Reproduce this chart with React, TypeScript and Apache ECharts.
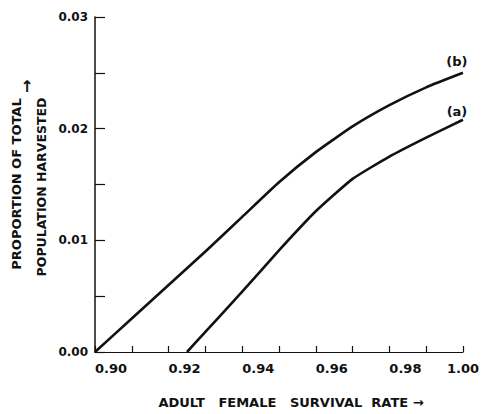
import React, { useEffect, useRef } from "react";
import * as echarts from "echarts";

const survivalA = [0.925, 0.93, 0.94, 0.95, 0.96, 0.97, 0.98, 0.99, 1.0];
const harvestA = [0.0, 0.0018, 0.0054, 0.0091, 0.0126, 0.0155, 0.0175, 0.0192, 0.0208];
const survivalB = [0.9, 0.91, 0.92, 0.93, 0.94, 0.95, 0.96, 0.97, 0.98, 0.99, 1.0];
const harvestB = [0.0, 0.003, 0.006, 0.009, 0.0121, 0.0152, 0.0179, 0.0202, 0.0221, 0.0237, 0.025];
const seriesLabels = ["(a)", "(b)"];
const xTitle = "ADULT   FEMALE   SURVIVAL  RATE →";
const yTitle1 = "PROPORTION OF TOTAL";
const yTitle2 = "POPULATION HARVESTED";
const yArrow = "↑";

const FONT = "'DejaVu Sans', 'Liberation Sans', sans-serif";
const INK = "#111";

function buildData(xs: number[], ys: number[], label: string, dy: number) {
  return xs.map((x, i) => {
    if (i === xs.length - 1) {
      return {
        value: [x, ys[i]],
        label: {
          show: true,
          position: "top",
          distance: dy,
          offset: [-6, 0],
          formatter: label,
          fontFamily: FONT,
          fontWeight: "bold",
          fontSize: 13,
          color: INK,
        },
      };
    }
    return { value: [x, ys[i]] };
  });
}

export default function App() {
  const ref = useRef<HTMLDivElement>(null);
  useEffect(() => {
    if (!ref.current) return;
    const chart = echarts.init(ref.current, null, { renderer: "svg" });
    chart.setOption({
      animation: false,
      backgroundColor: "#fff",
      grid: { left: 95, right: 13, top: 17, bottom: 62, containLabel: false },
      xAxis: {
        type: "value",
        min: 0.9,
        max: 1.0,
        interval: 0.01,
        axisLine: { show: true, onZero: false, lineStyle: { color: INK, width: 1.2 } },
        axisTick: { show: true, inside: true, length: 6, lineStyle: { color: INK, width: 1.2 } },
        splitLine: { show: false },
        axisLabel: {
          margin: 10,
          align: "left",
          alignMaxLabel: "center",
          fontFamily: FONT,
          fontWeight: "bold",
          fontSize: 13,
          color: INK,
          formatter: (v: number) => (Math.round(v * 100) % 2 === 0 ? v.toFixed(2) : ""),
        },
      },
      yAxis: {
        type: "value",
        min: 0,
        max: 0.03,
        interval: 0.005,
        axisLine: { show: true, onZero: false, lineStyle: { color: INK, width: 1.5 } },
        axisTick: { show: true, inside: true, length: 10, lineStyle: { color: INK, width: 1.2 } },
        splitLine: { show: false },
        axisLabel: {
          margin: 7,
          fontFamily: FONT,
          fontWeight: "bold",
          fontSize: 12,
          color: INK,
          formatter: (v: number) => (Math.round(v * 1000) % 10 === 0 ? v.toFixed(2) : ""),
        },
      },
      series: [
        {
          type: "line",
          name: seriesLabels[0],
          data: buildData(survivalA, harvestA, seriesLabels[0], 2),
          symbol: "circle",
          symbolSize: 0,
          showSymbol: true,
          smooth: 0.15,
          lineStyle: { color: INK, width: 2.6 },
          itemStyle: { color: INK },
        },
        {
          type: "line",
          name: seriesLabels[1],
          data: buildData(survivalB, harvestB, seriesLabels[1], 5),
          symbol: "circle",
          symbolSize: 0,
          showSymbol: true,
          smooth: 0.15,
          lineStyle: { color: INK, width: 2.6 },
          itemStyle: { color: INK },
        },
      ],
      graphic: [
        {
          type: "text",
          x: 291,
          y: 402,
          style: {
            text: xTitle,
            font: `bold 13px ${FONT}`,
            fill: INK,
            textAlign: "center",
            textVerticalAlign: "middle",
          },
        },
        {
          type: "text",
          x: 16,
          y: 184,
          rotation: Math.PI / 2,
          style: {
            text: yTitle1,
            font: `bold 13px ${FONT}`,
            fill: INK,
            textAlign: "center",
            textVerticalAlign: "middle",
          },
        },
        {
          type: "text",
          x: 41,
          y: 187,
          rotation: Math.PI / 2,
          style: {
            text: yTitle2,
            font: `bold 12.5px ${FONT}`,
            fill: INK,
            textAlign: "center",
            textVerticalAlign: "middle",
          },
        },
        {
          type: "text",
          x: 27,
          y: 86,
          style: {
            text: yArrow,
            font: `bold 16px ${FONT}`,
            fill: INK,
            textAlign: "center",
            textVerticalAlign: "middle",
          },
        },
      ],
    });
    return () => chart.dispose();
  }, []);
  return (
    <div
      ref={ref}
      style={{ position: "absolute", left: 0, top: 0, width: 482, height: 414, background: "#fff" }}
    />
  );
}
